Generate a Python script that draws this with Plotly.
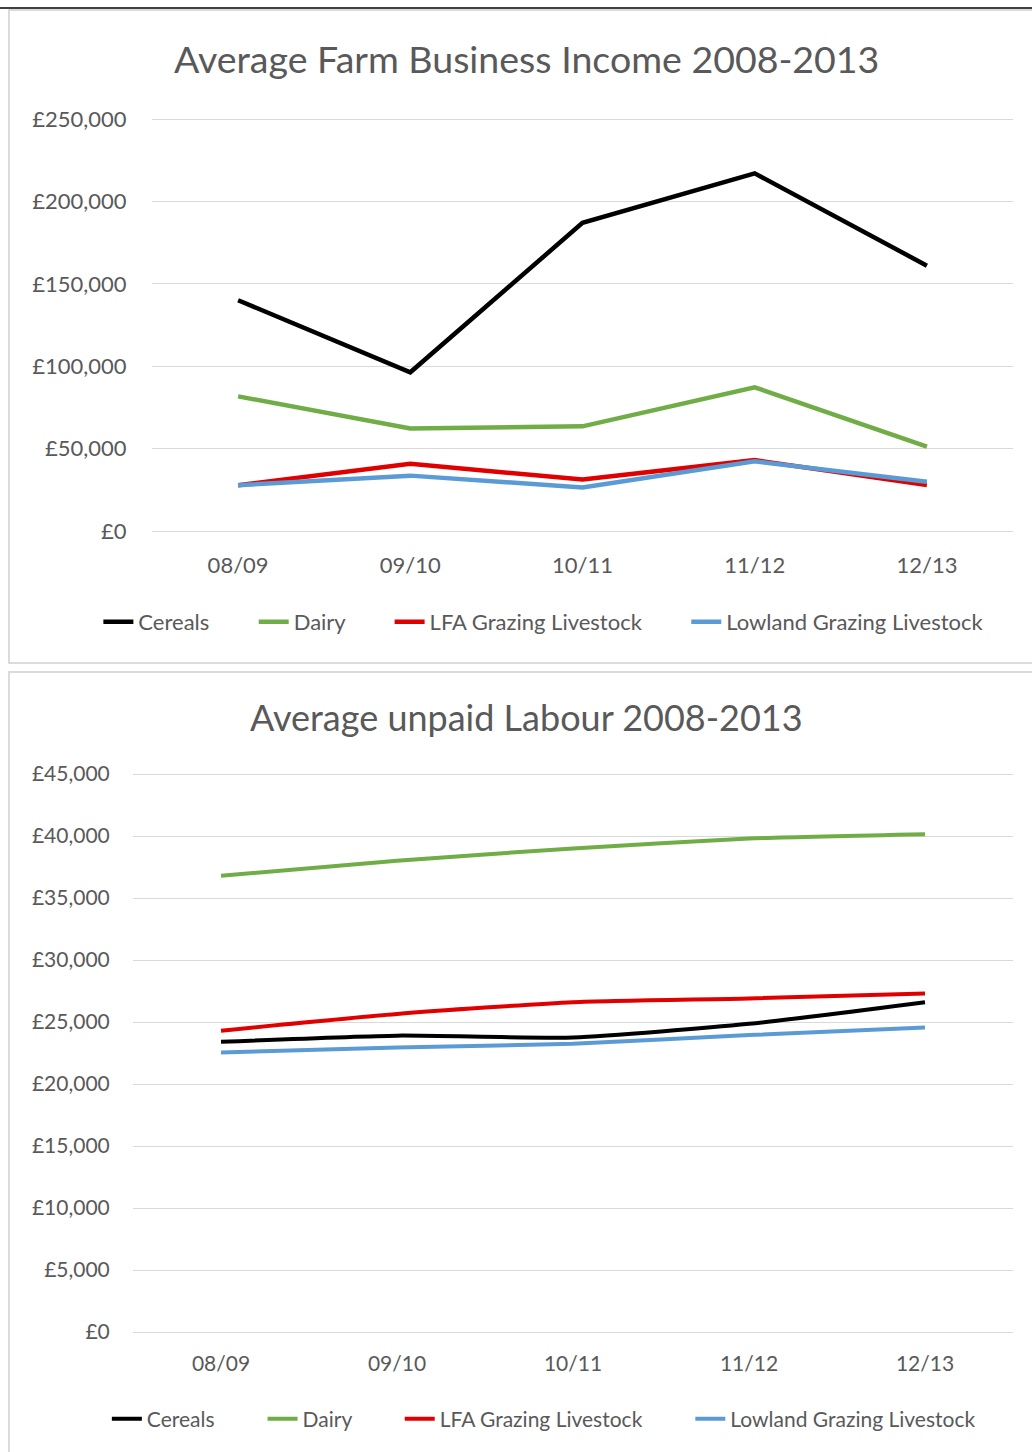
import plotly.graph_objects as go

# Financial years shown on both charts
years = ["08/09", "09/10", "10/11", "11/12", "12/13"]

# Average farm business income (GBP)
income_cereals = [140000, 96300, 187000, 217000, 161000]
income_dairy = [81700, 62200, 63500, 87200, 51200]
income_lfa = [27800, 40800, 31200, 43000, 27900]
income_lowland = [27800, 33600, 26400, 42300, 29900]

# Average unpaid labour (GBP)
labour_cereals = [23400, 23900, 23750, 24850, 26600]
labour_dairy = [36800, 38000, 39000, 39800, 40150]
labour_lfa = [24300, 25650, 26600, 26900, 27300]
labour_lowland = [22550, 22950, 23250, 23950, 24550]

series_names = ["Cereals", "Dairy", "LFA Grazing Livestock", "Lowland Grazing Livestock"]
series_colors = ["#000000", "#70AD47", "#E00000", "#5B9BD5"]

income_ticks = [0, 50000, 100000, 150000, 200000, 250000]
labour_ticks = [0, 5000, 10000, 15000, 20000, 25000, 30000, 35000, 40000, 45000]

W, H = 1032, 1452
FONT = "Lato"
TEXT = "#595959"
GRID = "#D9D9D9"
NBSP = "\u00a0"


def px_x(v):
    return v / W


def px_y(v):
    return 1 - v / H


def pounds(v):
    return "\u00a3" + f"{v:,}"


def legend_label(i, pad):
    # trailing non-breaking spaces widen the gap between legend entries
    name = series_names[i]
    return name if i == len(series_names) - 1 else name + NBSP * pad


fig = go.Figure()

income_data = [income_cereals, income_dairy, income_lfa, income_lowland]
labour_data = [labour_cereals, labour_dairy, labour_lfa, labour_lowland]

for i, (color, vals) in enumerate(zip(series_colors, income_data)):
    fig.add_trace(go.Scatter(
        x=years, y=vals, name=legend_label(i, 7), mode="lines",
        line=dict(color=color, width=4.5),
        xaxis="x", yaxis="y", legend="legend",
    ))

for i, (color, vals) in enumerate(zip(series_colors, labour_data)):
    fig.add_trace(go.Scatter(
        x=years, y=vals, name=legend_label(i, 8), mode="lines",
        line=dict(color=color, width=4, shape="spline", smoothing=0.6),
        xaxis="x2", yaxis="y2", legend="legend2",
    ))

common_x = dict(
    type="category", range=[-0.5, 4.5], showgrid=False, zeroline=False,
    showline=False, ticks="outside", tickcolor="rgba(0,0,0,0)", automargin=False,
)
common_y = dict(
    showgrid=True, gridcolor=GRID, gridwidth=1, zeroline=False, showline=False,
    ticks="outside", tickcolor="rgba(0,0,0,0)", automargin=False,
)

fig.update_layout(
    width=W, height=H,
    margin=dict(l=0, r=0, t=0, b=0, autoexpand=False),
    paper_bgcolor="white", plot_bgcolor="white",
    xaxis=dict(common_x, domain=[px_x(152), px_x(1013)], anchor="y", ticklen=12,
               tickfont=dict(family=FONT, size=22, color=TEXT)),
    # ranges padded by a few pixels so the end gridlines are drawn
    yaxis=dict(common_y, domain=[px_y(534), px_y(116)], range=[-1820, 251820],
               tickvals=income_ticks, ticktext=[pounds(v) for v in income_ticks],
               ticklen=20, anchor="x",
               tickfont=dict(family=FONT, size=22, color=TEXT)),
    xaxis2=dict(common_x, domain=[px_x(133), px_x(1013)], anchor="y2", ticklen=10,
                tickfont=dict(family=FONT, size=21, color=TEXT)),
    yaxis2=dict(common_y, domain=[px_y(1335), px_y(771)], range=[-242, 45242],
                tickvals=labour_ticks, ticktext=[pounds(v) for v in labour_ticks],
                ticklen=18, anchor="x2",
                tickfont=dict(family=FONT, size=21, color=TEXT)),
    legend=dict(
        orientation="h", x=0.527, xanchor="center", y=px_y(622), yanchor="middle",
        font=dict(family=FONT, size=22, color=TEXT), bgcolor="rgba(0,0,0,0)",
        itemwidth=30, tracegroupgap=0,
    ),
    legend2=dict(
        orientation="h", x=0.527, xanchor="center", y=px_y(1419), yanchor="middle",
        font=dict(family=FONT, size=21, color=TEXT), bgcolor="rgba(0,0,0,0)",
        itemwidth=30, tracegroupgap=0,
    ),
    showlegend=True,
)

# Chart titles
fig.add_annotation(
    text="Average Farm Business Income 2008-2013", x=px_x(526), y=px_y(58),
    xref="paper", yref="paper", showarrow=False, xanchor="center", yanchor="middle",
    font=dict(family=FONT, size=37.5, color=TEXT),
)
fig.add_annotation(
    text="Average unpaid Labour 2008-2013", x=px_x(526), y=px_y(717),
    xref="paper", yref="paper", showarrow=False, xanchor="center", yanchor="middle",
    font=dict(family=FONT, size=36, color=TEXT),
)

# Panel frames and the rule above them
fig.add_shape(type="rect", xref="paper", yref="paper",
              x0=px_x(9), x1=1.01, y0=px_y(663), y1=px_y(10),
              line=dict(color="#CFCFCF", width=1.5), fillcolor="rgba(0,0,0,0)")
fig.add_shape(type="rect", xref="paper", yref="paper",
              x0=px_x(9), x1=1.01, y0=-0.01, y1=px_y(672),
              line=dict(color="#CFCFCF", width=1.5), fillcolor="rgba(0,0,0,0)")
fig.add_shape(type="line", xref="paper", yref="paper",
              x0=0, x1=1, y0=px_y(8), y1=px_y(8),
              line=dict(color="#000000", width=1.5))

fig.write_html("out.html")
